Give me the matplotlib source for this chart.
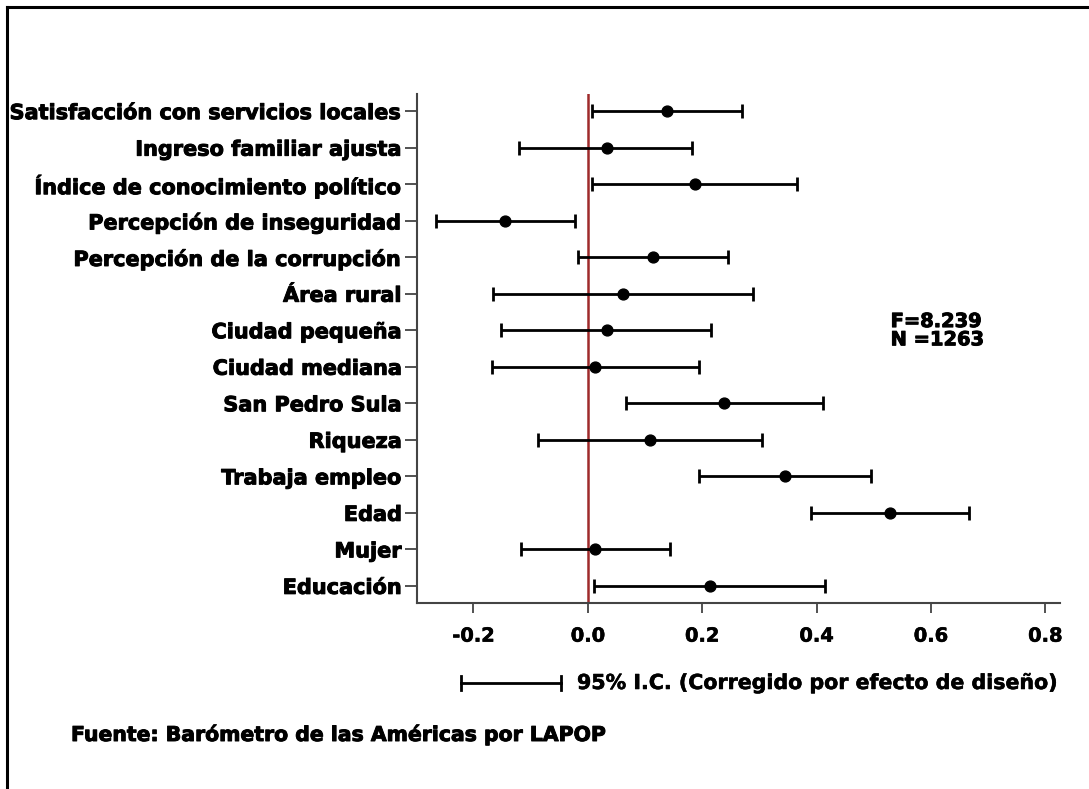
import numpy as np
import matplotlib.pyplot as plt
import matplotlib.patheffects as pe
from matplotlib.lines import Line2D

# variables, top to bottom
labels = ["Satisfacción con servicios locales", "Ingreso familiar ajusta",
          "Índice de conocimiento político", "Percepción de inseguridad",
          "Percepción de la corrupción", "Área rural", "Ciudad pequeña",
          "Ciudad mediana", "San Pedro Sula", "Riqueza", "Trabaja empleo",
          "Edad", "Mujer", "Educación"]
coef = [0.139, 0.033, 0.187, -0.144, 0.114, 0.062, 0.033,
        0.013, 0.239, 0.109, 0.344, 0.528, 0.013, 0.213]
ci_low = [0.007, -0.120, 0.008, -0.266, -0.017, -0.165, -0.152,
          -0.168, 0.066, -0.087, 0.194, 0.390, -0.117, 0.010]
ci_high = [0.270, 0.183, 0.366, -0.023, 0.245, 0.289, 0.215,
           0.194, 0.412, 0.305, 0.495, 0.666, 0.144, 0.415]
xticks = [-0.2, 0.0, 0.2, 0.4, 0.6, 0.8]
stats_text = "F=8.239\nN =1263"
ci_text = "95% I.C. (Corregido por efecto de diseño)"
source_text = "Fuente: Barómetro de las Américas por LAPOP"

plt.rcParams['font.family'] = 'DejaVu Sans'
plt.rcParams['font.weight'] = 'bold'

# heavier look, like the black-weight font of the original
heavy = [pe.withStroke(linewidth=0.7, foreground='black')]
semi = [pe.withStroke(linewidth=0.4, foreground='black')]

fig = plt.figure(figsize=(10.89, 7.89), dpi=100)
ax = fig.add_axes([0.383, 0.2357, 0.590, 0.6452])

coef = np.array(coef)
y = np.arange(len(labels))[::-1]
xerr = [coef - np.array(ci_low), np.array(ci_high) - coef]

ax.axvline(0, color='#9e2a2b', lw=1.8, zorder=1)
ax.errorbar(coef, y, xerr=xerr, fmt='o', color='black', ms=7.8,
            elinewidth=2.0, capsize=5, capthick=2.0, zorder=3)

ax.set_xlim(-0.2985, 0.825)
ax.set_ylim(-0.47, 13.47)
ax.set_yticks(y)
ax.set_yticklabels(labels, fontsize=15, fontweight='bold')
ax.set_xticks(xticks)
ax.set_xticklabels([f"{t:.1f}" for t in xticks], fontsize=14, fontweight='bold')
ax.tick_params(axis='y', length=9, width=1.2, pad=2, color='#333333')
ax.tick_params(axis='x', length=7, width=1.2, pad=10, color='#333333')
for t in ax.get_yticklabels():
    t.set_path_effects(heavy)
for t in ax.get_xticklabels():
    t.set_path_effects(semi)

for s in ['top', 'right']:
    ax.spines[s].set_visible(False)
for s in ['left', 'bottom']:
    ax.spines[s].set_color('#444444')
    ax.spines[s].set_linewidth(1.5)

ax.text(0.737, 0.535, stats_text, transform=ax.transAxes, fontsize=14,
        fontweight='bold', ha='left', va='center', linespacing=0.95,
        path_effects=heavy)

# CI legend sample below the axis
lx0, lx1, ly = 461 / 1089, 561 / 1089, 1 - 683 / 789
fig.add_artist(Line2D([lx0, lx1], [ly, ly], color='black', lw=2.0))
for xx in (lx0, lx1):
    fig.add_artist(Line2D([xx, xx], [ly - 0.009, ly + 0.009], color='black', lw=2.0))
fig.text(577 / 1089, ly, ci_text, fontsize=14.8, fontweight='bold', va='center',
         path_effects=semi)

fig.text(71 / 1089, 1 - 735 / 789, source_text, fontsize=14.7,
         fontweight='bold', va='center', path_effects=heavy)

# frame on left and top edges
bx, by = 7 / 1089, 1 - 7 / 789
fig.add_artist(Line2D([bx, bx], [0, by], color='black', lw=2.2))
fig.add_artist(Line2D([bx, 1], [by, by], color='black', lw=2.2))

fig.savefig('out.png', dpi=100, facecolor='white')
